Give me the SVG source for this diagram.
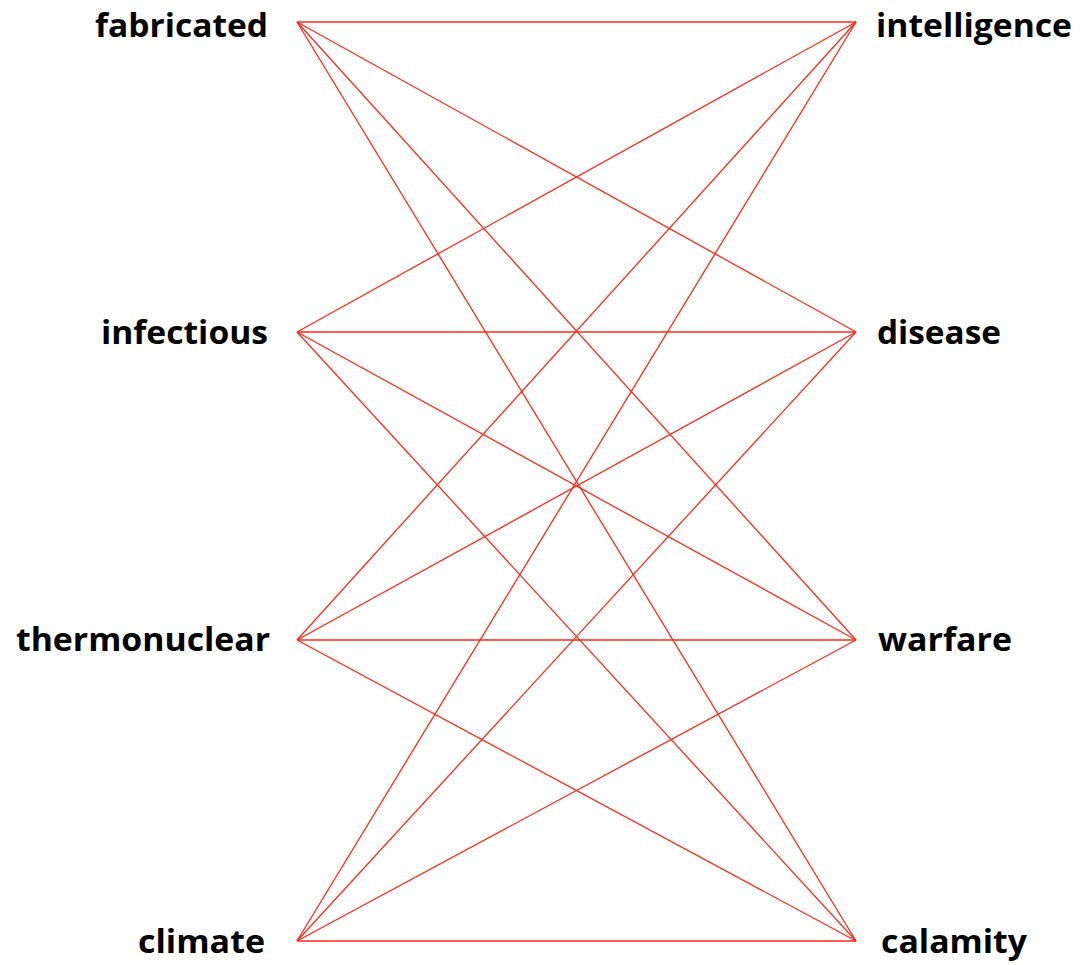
<svg xmlns="http://www.w3.org/2000/svg" width="1080" height="965" viewBox="0 0 1080 965">
<style>
.lbl{font-family:"Open Sans","Liberation Sans",sans-serif;font-weight:bold;font-size:32px;fill:#000}
.edge{stroke:#ff2a1a;stroke-width:1.3;fill:none}
</style>
<rect width="1080" height="965" fill="#fff"/>
<g id="connectors">
<line class="edge" x1="297" y1="22" x2="856" y2="22"/>
<line class="edge" x1="297" y1="22" x2="856" y2="332"/>
<line class="edge" x1="297" y1="22" x2="856" y2="640"/>
<line class="edge" x1="297" y1="22" x2="856" y2="941"/>
<line class="edge" x1="297" y1="332" x2="856" y2="22"/>
<line class="edge" x1="297" y1="332" x2="856" y2="332"/>
<line class="edge" x1="297" y1="332" x2="856" y2="640"/>
<line class="edge" x1="297" y1="332" x2="856" y2="941"/>
<line class="edge" x1="297" y1="640" x2="856" y2="22"/>
<line class="edge" x1="297" y1="640" x2="856" y2="332"/>
<line class="edge" x1="297" y1="640" x2="856" y2="640"/>
<line class="edge" x1="297" y1="640" x2="856" y2="941"/>
<line class="edge" x1="297" y1="941" x2="856" y2="22"/>
<line class="edge" x1="297" y1="941" x2="856" y2="332"/>
<line class="edge" x1="297" y1="941" x2="856" y2="640"/>
<line class="edge" x1="297" y1="941" x2="856" y2="941"/>
</g>
<g id="fabricated"><text class="lbl" x="95" y="37" textLength="173" lengthAdjust="spacingAndGlyphs">fabricated</text></g>
<g id="infectious"><text class="lbl" x="101" y="344" textLength="167" lengthAdjust="spacingAndGlyphs">infectious</text></g>
<g id="thermonuclear"><text class="lbl" x="16" y="651" textLength="254" lengthAdjust="spacingAndGlyphs">thermonuclear</text></g>
<g id="climate"><text class="lbl" x="138" y="953" textLength="127" lengthAdjust="spacingAndGlyphs">climate</text></g>
<g id="intelligence"><text class="lbl" x="876" y="37" textLength="196" lengthAdjust="spacingAndGlyphs">intelligence</text></g>
<g id="disease"><text class="lbl" x="877" y="344" textLength="124" lengthAdjust="spacingAndGlyphs">disease</text></g>
<g id="warfare"><text class="lbl" x="878" y="651" textLength="134" lengthAdjust="spacingAndGlyphs">warfare</text></g>
<g id="calamity"><text class="lbl" x="881" y="953" textLength="146" lengthAdjust="spacingAndGlyphs">calamity</text></g>
</svg>
